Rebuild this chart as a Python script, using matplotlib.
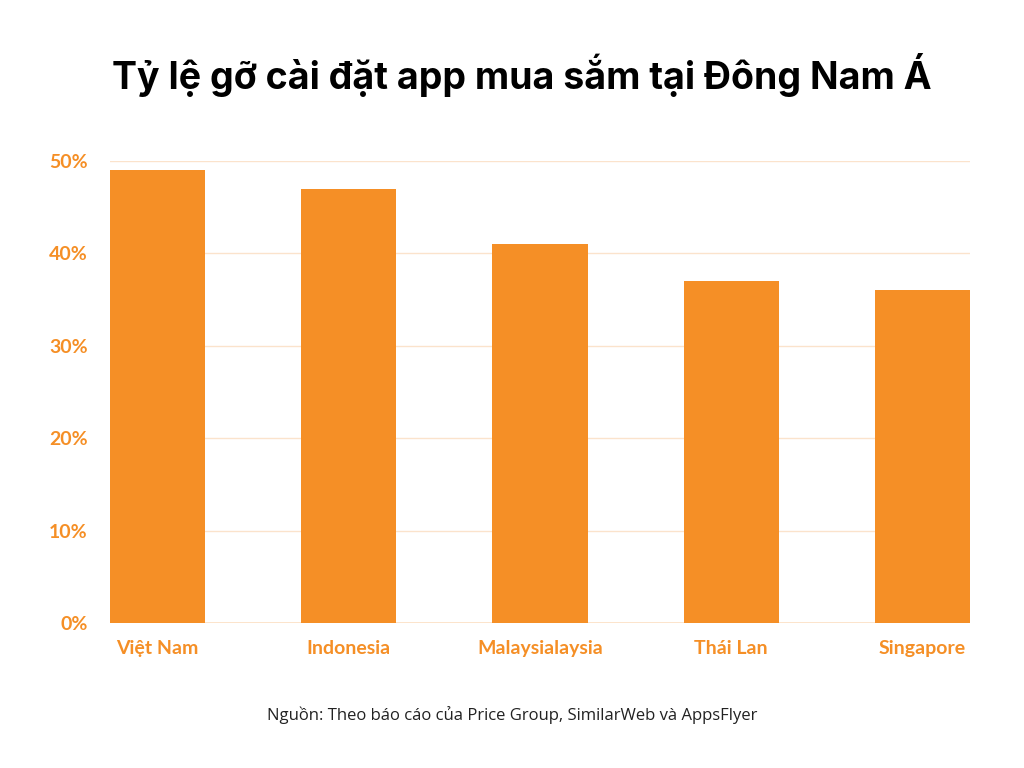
import matplotlib.pyplot as plt
from matplotlib.ticker import FuncFormatter

countries = ["Việt Nam", "Indonesia", "Malaysialaysia", "Thái Lan", "Singapore"]
uninstall_rate = [49, 47, 41, 37, 36]
y_ticks = [0, 10, 20, 30, 40, 50]

orange = "#F58F26"
grid_color = "#FBE3CC"

fig = plt.figure(figsize=(10.24, 7.68), dpi=100)
ax = fig.add_axes([110 / 1024, 145 / 768, 860 / 1024, 462 / 768])

ax.bar(range(len(countries)), uninstall_rate, width=0.497, color=orange, zorder=3)
ax.set_xlim(-0.2485, len(countries) - 1 + 0.2485)
ax.set_ylim(0, 50)
ax.set_yticks(y_ticks)
ax.yaxis.set_major_formatter(FuncFormatter(lambda v, _: f"{v:.0f}%"))
ax.set_xticks(range(len(countries)))
ax.set_xticklabels(countries)
ax.grid(axis="y", color=grid_color, linewidth=1, zorder=0)
ax.axhline(0, color=orange, linewidth=1, zorder=4)

for s in ax.spines.values():
    s.set_visible(False)
ax.tick_params(length=0, colors=orange, labelsize=14)
ax.tick_params(axis="y", pad=16)
ax.tick_params(axis="x", pad=12)
for lbl in ax.get_xticklabels() + ax.get_yticklabels():
    lbl.set_fontfamily("Lato")
    lbl.set_fontweight("bold")
    lbl.set_color(orange)

fig.text(0.51, 0.902, "Tỷ lệ gỡ cài đặt app mua sắm tại Đông Nam Á",
         ha="center", va="center", fontsize=27, fontweight="bold",
         fontfamily="Inter", color="black")
fig.text(0.5, 0.069, "Nguồn: Theo báo cáo của Price Group, SimilarWeb và AppsFlyer",
         ha="center", va="center", fontsize=12, fontfamily="Open Sans", color="#222222")

fig.savefig("out.png", dpi=100)
